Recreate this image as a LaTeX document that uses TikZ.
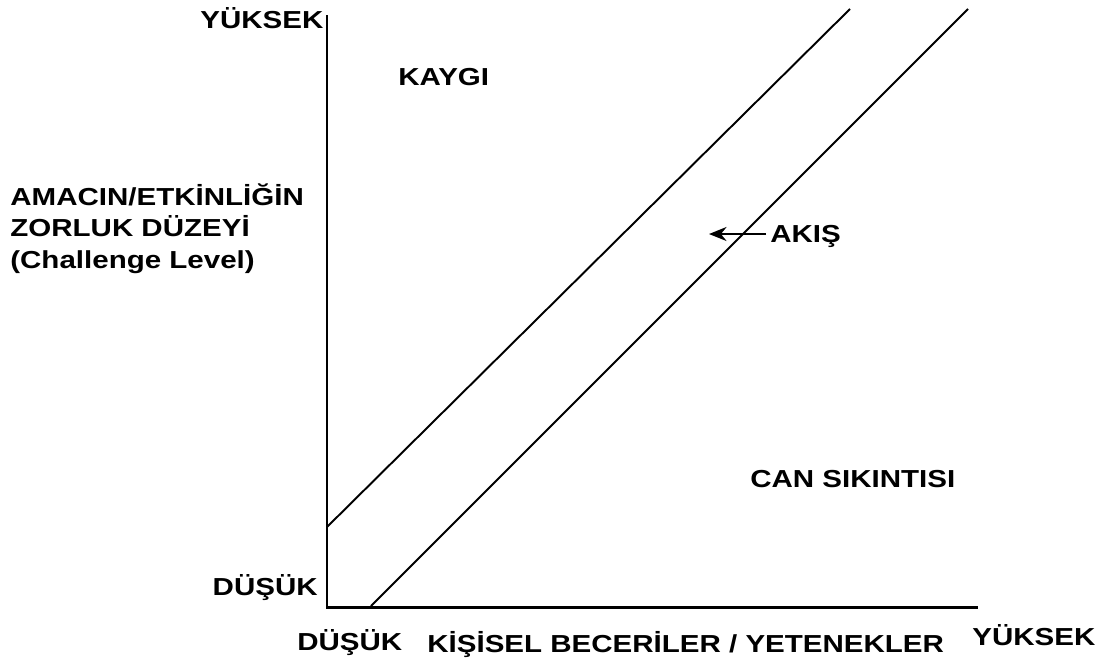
\documentclass[tikz,border=0pt]{standalone}
\usepackage{fontspec}
\usetikzlibrary{arrows.meta}
\setmainfont{Liberation Sans}[FakeStretch=1.2]
\begin{document}
\begin{tikzpicture}[x=0.02cm,y=-0.02cm]
    \tikzset{lbl/.style={font=\bfseries\fontsize{14}{17.9}\selectfont, inner sep=0pt, align=left},
             axis/.style={line width=1.7pt},
             flowline/.style={line width=1.1pt},
             flowarrow/.style={-{Stealth[length=10pt,width=8pt]}, line width=1.1pt}}
    \useasboundingbox (0,0) rectangle (1109,664);
    % axes
    \coordinate (origin) at (327,607);
    \coordinate (ytop) at (327,15);
    \coordinate (xend) at (978,607);
    \draw[axis] (ytop) -- (origin) -- (xend);
    % flow channel
    \coordinate (upA) at (327,527);
    \coordinate (upB) at (850,9);
    \coordinate (loA) at (371,606);
    \coordinate (loB) at (968,9);
    \draw[flowline] (upA) -- (upB);
    \draw[flowline] (loA) -- (loB);
    % labels
    \node[lbl, anchor=base west] (yhigh) at (200,28) {YÜKSEK};
    \node[lbl, anchor=base east] (ylow) at (318,595) {DÜŞÜK};
    \node[lbl, anchor=base west] (ytitle) at (10,268) {AMACIN/ETKİNLİĞİN\\ZORLUK DÜZEYİ\\(Challenge Level)};
    \node[lbl, anchor=base west] (kaygi) at (398,85) {KAYGI};
    \node[lbl, anchor=base west] (akis) at (770,242) {AKIŞ};
    \node[lbl, anchor=base west] (can) at (750,487) {CAN SIKINTISI};
    \node[lbl, anchor=base west] (xlow) at (297,650) {DÜŞÜK};
    \node[lbl, anchor=base west] (xtitle) at (427,652) {KİŞİSEL BECERİLER / YETENEKLER};
    \node[lbl, anchor=base west] (xhigh) at (972,645) {YÜKSEK};
    \coordinate (flowtip) at (709,234);
    \draw[flowarrow] (akis.west |- flowtip) ++(-4,0) coordinate (akistail) (akistail) -- (flowtip);
\end{tikzpicture}
\end{document}
